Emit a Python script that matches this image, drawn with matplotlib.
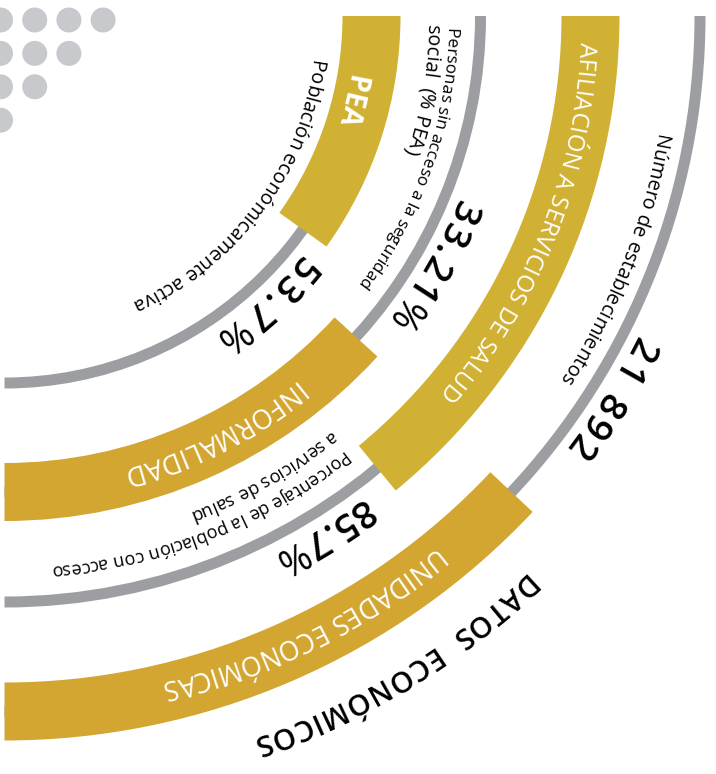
import numpy as np
import matplotlib
matplotlib.use("Agg")
import matplotlib.pyplot as plt
from matplotlib.patches import Wedge, Circle
from matplotlib.font_manager import FontProperties, findfont, get_font
from matplotlib.backends.backend_agg import get_hinting_flag

try:
    from matplotlib.ft2font import LoadFlags
    NO_HINT = LoadFlags.NO_HINTING
except ImportError:
    from matplotlib.ft2font import LOAD_NO_HINTING as NO_HINT

FAMILIA = "Open Sans"
DPI = 100

# --- datos del panel ---
categorias = ["PEA", "INFORMALIDAD", "AFILIACIÓN A SERVICIOS DE SALUD", "UNIDADES ECONÓMICAS"]
valores = ["53.7%", "33.21%", "85.7%", "21 892"]
descripciones = [
    ["Población económicamente activa"],
    ["Personas sin acceso a la seguridad", "social  (% PEA)"],
    ["Porcentaje de la población con acceso", "a servicios de salud"],
    ["Número de establecimientos"],
]
titulo = "DATOS  ECONÓMICOS"

# --- geometria (pixeles de la imagen, y hacia abajo) ---
CX, CY = 4.5, 16.0
radio_anillo = [367, 476, 586, 695.5]
tramo_banda = [(0, 35.6), (42.4, 90), (0, 50.5), (43.2, 90)]
color_banda = ["#d0b134", "#d3a631", "#d0b134", "#d3a631"]
ANCHO_BANDA = 58
ANCHO_LINEA = 11
GRIS = "#9c9ea2"

# (radio base, angulo 1a letra, angulo ultima letra, tamaño, peso)
pos_cat = [(351, 10.5, 16.0, 21, "bold"), (467, 51.4, 73.9, 20, "normal"),
           (576, 3.3, 40.0, 17.5, "normal"), (684, 51.5, 76.1, 17, "normal")]
pos_val = [(381, 39.9, 54.0), (489, 22.9, 36.4), (601, 54.1, 61.8), (709, 27.5, 36.6)]
pos_desc = [[(312, 8.9, 64.7, 13.5)],
            [(444, 2.0, 36.6, 11.5), (424, 1.7, 18.3, 11.5)],
            [(551, 52.3, 84.4, 12), (528, 52.1, 68.8, 12)],
            [(664, 10.7, 32.8, 12.5)]]
pos_titulo = (763, 47.4, 70.3, 21)


def fuente_para(fp):
    f = get_font(findfont(fp))
    f.clear()
    f.set_size(fp.get_size_in_points(), DPI)
    return f


def avances(texto, fp):
    f = fuente_para(fp)
    return np.array([f.load_char(ord(ch), flags=NO_HINT).linearHoriAdvance / 65536.0
                     for ch in texto])


def caja_agg(ch, fp):
    # ancho de la caja y desplazamiento del mapa de bits que usa Agg
    f = fuente_para(fp)
    f.set_text(ch, 0.0, flags=get_hinting_flag())
    w, _ = f.get_width_height()
    xo, _ = f.get_bitmap_offset()
    return w / 64.0, xo / 64.0


def texto_curvo(ax, texto, rb, t1, t2, size, color="black", weight="normal",
                modo="tam", ligeros=""):
    # modo "tam": el tamaño se ajusta al arco; "esp": se ajusta el espaciado
    fp = FontProperties(family=FAMILIA, size=size, weight=weight)
    adv = avances(texto, fp)
    centros = np.cumsum(adv) - adv / 2
    wc = centros[-1] - centros[0]
    meta = np.radians(t2 - t1) * rb
    n = len(texto)
    track = 0.0
    esc = meta / wc
    if modo == "esp" and esc > 1:
        track = (meta - wc) / (n - 1)
        esc = 1.0
    fp = FontProperties(family=FAMILIA, size=size * esc, weight=weight)
    fp_ligero = FontProperties(family=FAMILIA, size=size * esc, weight="normal")
    adv = avances(texto, fp)
    centros = np.cumsum(adv) - adv / 2
    for i, ch in enumerate(texto):
        if ch == " ":
            continue
        fpc = fp_ligero if ch in ligeros else fp
        d = centros[i] - centros[0] + i * track
        th = t1 + np.degrees(d / rb)
        rot = -th - 90
        u = np.array([np.cos(np.radians(rot)), -np.sin(np.radians(rot))])
        c = np.array([CX + rb * np.cos(np.radians(th)), CY + rb * np.sin(np.radians(th))])
        w, xo = caja_agg(ch, fpc)
        a = c + ((w - adv[i]) / 2 + xo) * u - np.array([xo, 0.0])
        ax.text(a[0], a[1], ch, fontproperties=fpc, color=color, rotation=rot,
                ha="center", va="baseline", rotation_mode="anchor")


fig = plt.figure(figsize=(7.16, 7.74), dpi=DPI)
ax = fig.add_axes([0, 0, 1, 1])
ax.set_xlim(0, 716)
ax.set_ylim(774, 0)
ax.axis("off")

# puntos decorativos
for fila, cuantos in enumerate([4, 3, 2, 1]):
    for col in range(cuantos):
        ax.add_patch(Circle((0.5 + 34.2 * col, 20 + 33.4 * fila), 12.5,
                            color="#c8c9cd", lw=0))

# anillos grises y bandas
for r, (a, b), c in zip(radio_anillo, tramo_banda, color_banda):
    ax.add_patch(Wedge((CX, CY), r + ANCHO_LINEA / 2, 0, 90, width=ANCHO_LINEA,
                       color=GRIS, lw=0))
    ax.add_patch(Wedge((CX, CY), r + ANCHO_BANDA / 2, a, b, width=ANCHO_BANDA,
                       color=c, lw=0))

for cat, (rb, t1, t2, s, w) in zip(categorias, pos_cat):
    texto_curvo(ax, cat, rb, t1, t2, s, color="white", weight=w)

for val, (rb, t1, t2) in zip(valores, pos_val):
    texto_curvo(ax, val, rb, t1, t2, 27.5, weight=600, modo="esp", ligeros="%")

for lineas, posiciones in zip(descripciones, pos_desc):
    for linea, (rb, t1, t2, s) in zip(lineas, posiciones):
        texto_curvo(ax, linea, rb, t1, t2, s)

rb, t1, t2, s = pos_titulo
texto_curvo(ax, titulo, rb, t1, t2, s, weight=600, modo="esp")

fig.savefig("out.png", dpi=DPI)
